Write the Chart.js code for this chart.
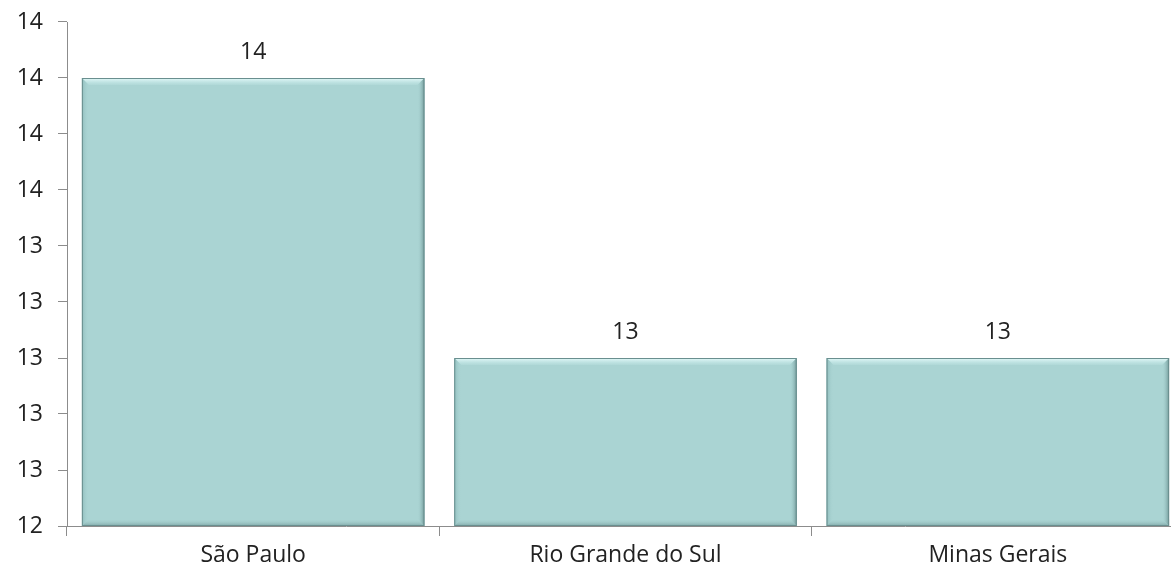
<!DOCTYPE html>
<html>
<head>
<meta charset="utf-8">
<script src="https://cdn.jsdelivr.net/npm/chart.js@4.4.1/dist/chart.umd.min.js"></script>
<style>
  html, body { margin: 0; padding: 0; background: #fff; overflow: hidden; }
  #wrap { width: 1184px; height: 574px; }
</style>
</head>
<body>
<div id="wrap"><canvas id="myChart"></canvas></div>
<script>
// estados e valores
const estados = ['São Paulo', 'Rio Grande do Sul', 'Minas Gerais'];
const valores = [14, 13, 13];

// eixo y: 12.4 .. 14.2 passo 0.2, rótulos arredondados
const yMin = 12.4;
const yMax = 14.2;
const yStep = 0.2;

const fonte = "'Open Sans', 'Liberation Sans', sans-serif";
const corEixo = '#8c8c8c';

// efeito chanfrado nas barras + rótulos de valor
const bevelPlugin = {
    id: 'bevel',
    afterDatasetsDraw(chart) {
        const ctx = chart.ctx;
        const meta = chart.getDatasetMeta(0);
        const area = chart.chartArea;
        const b = 7;
        meta.data.forEach((bar, i) => {
            const l = bar.x - bar.width / 2;
            const r = bar.x + bar.width / 2;
            const t = bar.y;
            const bt = Math.min(bar.base, area.bottom);
            ctx.save();
            // topo claro
            let g = ctx.createLinearGradient(0, t, 0, t + b);
            g.addColorStop(0, '#e6fbfb');
            g.addColorStop(1, 'rgba(200,235,235,0.2)');
            ctx.fillStyle = g;
            ctx.beginPath();
            ctx.moveTo(l, t); ctx.lineTo(r, t); ctx.lineTo(r - b, t + b); ctx.lineTo(l + b, t + b); ctx.closePath();
            ctx.fill();
            // esquerda
            g = ctx.createLinearGradient(l, 0, l + b, 0);
            g.addColorStop(0, '#8fbcbc');
            g.addColorStop(1, 'rgba(170,212,211,0)');
            ctx.fillStyle = g;
            ctx.beginPath();
            ctx.moveTo(l, t); ctx.lineTo(l + b, t + b); ctx.lineTo(l + b, bt - b); ctx.lineTo(l, bt); ctx.closePath();
            ctx.fill();
            // direita escura
            g = ctx.createLinearGradient(r - b, 0, r, 0);
            g.addColorStop(0, 'rgba(170,212,211,0)');
            g.addColorStop(1, '#6f9696');
            ctx.fillStyle = g;
            ctx.beginPath();
            ctx.moveTo(r, t); ctx.lineTo(r, bt); ctx.lineTo(r - b, bt - b); ctx.lineTo(r - b, t + b); ctx.closePath();
            ctx.fill();
            // baixo escuro
            g = ctx.createLinearGradient(0, bt - b, 0, bt);
            g.addColorStop(0, 'rgba(170,212,211,0)');
            g.addColorStop(1, '#7fa6a6');
            ctx.fillStyle = g;
            ctx.beginPath();
            ctx.moveTo(l, bt); ctx.lineTo(r, bt); ctx.lineTo(r - b, bt - b); ctx.lineTo(l + b, bt - b); ctx.closePath();
            ctx.fill();
            ctx.strokeStyle = '#6a8f8f';
            ctx.lineWidth = 1;
            ctx.strokeRect(l + 0.5, t + 0.5, bar.width - 1, bt - t - 1);
            // valor
            ctx.fillStyle = '#222';
            ctx.font = '23px ' + fonte;
            ctx.textAlign = 'center';
            ctx.textBaseline = 'middle';
            ctx.fillText(String(valores[i]), bar.x, t - 26);
            ctx.restore();
        });
    }
};

const ctx = document.getElementById('myChart').getContext('2d');
const myChart = new Chart(ctx, {
    type: 'bar',
    data: {
        labels: estados,
        datasets: [{
            data: valores,
            backgroundColor: '#aad4d3',
            borderWidth: 0,
            barPercentage: 0.92,
            categoryPercentage: 1
        }]
    },
    options: {
        responsive: true,
        maintainAspectRatio: false,
        animation: false,
        layout: { padding: { top: 22, right: 0, left: 0, bottom: 0 } },
        plugins: {
            legend: { display: false },
            tooltip: { enabled: false }
        },
        scales: {
            y: {
                min: yMin,
                max: yMax,
                afterFit: axis => {
                    axis.width = 67;
                    axis.paddingTop = 0;
                    axis.paddingBottom = 0;
                },
                afterBuildTicks: axis => {
                    const t = [];
                    for (let k = 0; k <= Math.round((yMax - yMin) / yStep); k++) {
                        t.push({ value: yMin + k * yStep });
                    }
                    axis.ticks = t;
                },
                border: { color: corEixo, width: 1 },
                grid: { drawOnChartArea: false, color: corEixo, tickLength: 9 },
                ticks: {
                    color: '#222',
                    font: { family: fonte, size: 23 },
                    padding: 15,
                    callback: v => Math.round(v)
                }
            },
            x: {
                afterFit: axis => { axis.height = 48; },
                border: { color: corEixo, width: 1 },
                grid: { drawOnChartArea: false, color: corEixo, tickLength: 10, offset: true },
                ticks: {
                    color: '#222',
                    font: { family: fonte, size: 23 },
                    padding: 6
                }
            }
        }
    },
    plugins: [bevelPlugin]
});
</script>
</body>
</html>
